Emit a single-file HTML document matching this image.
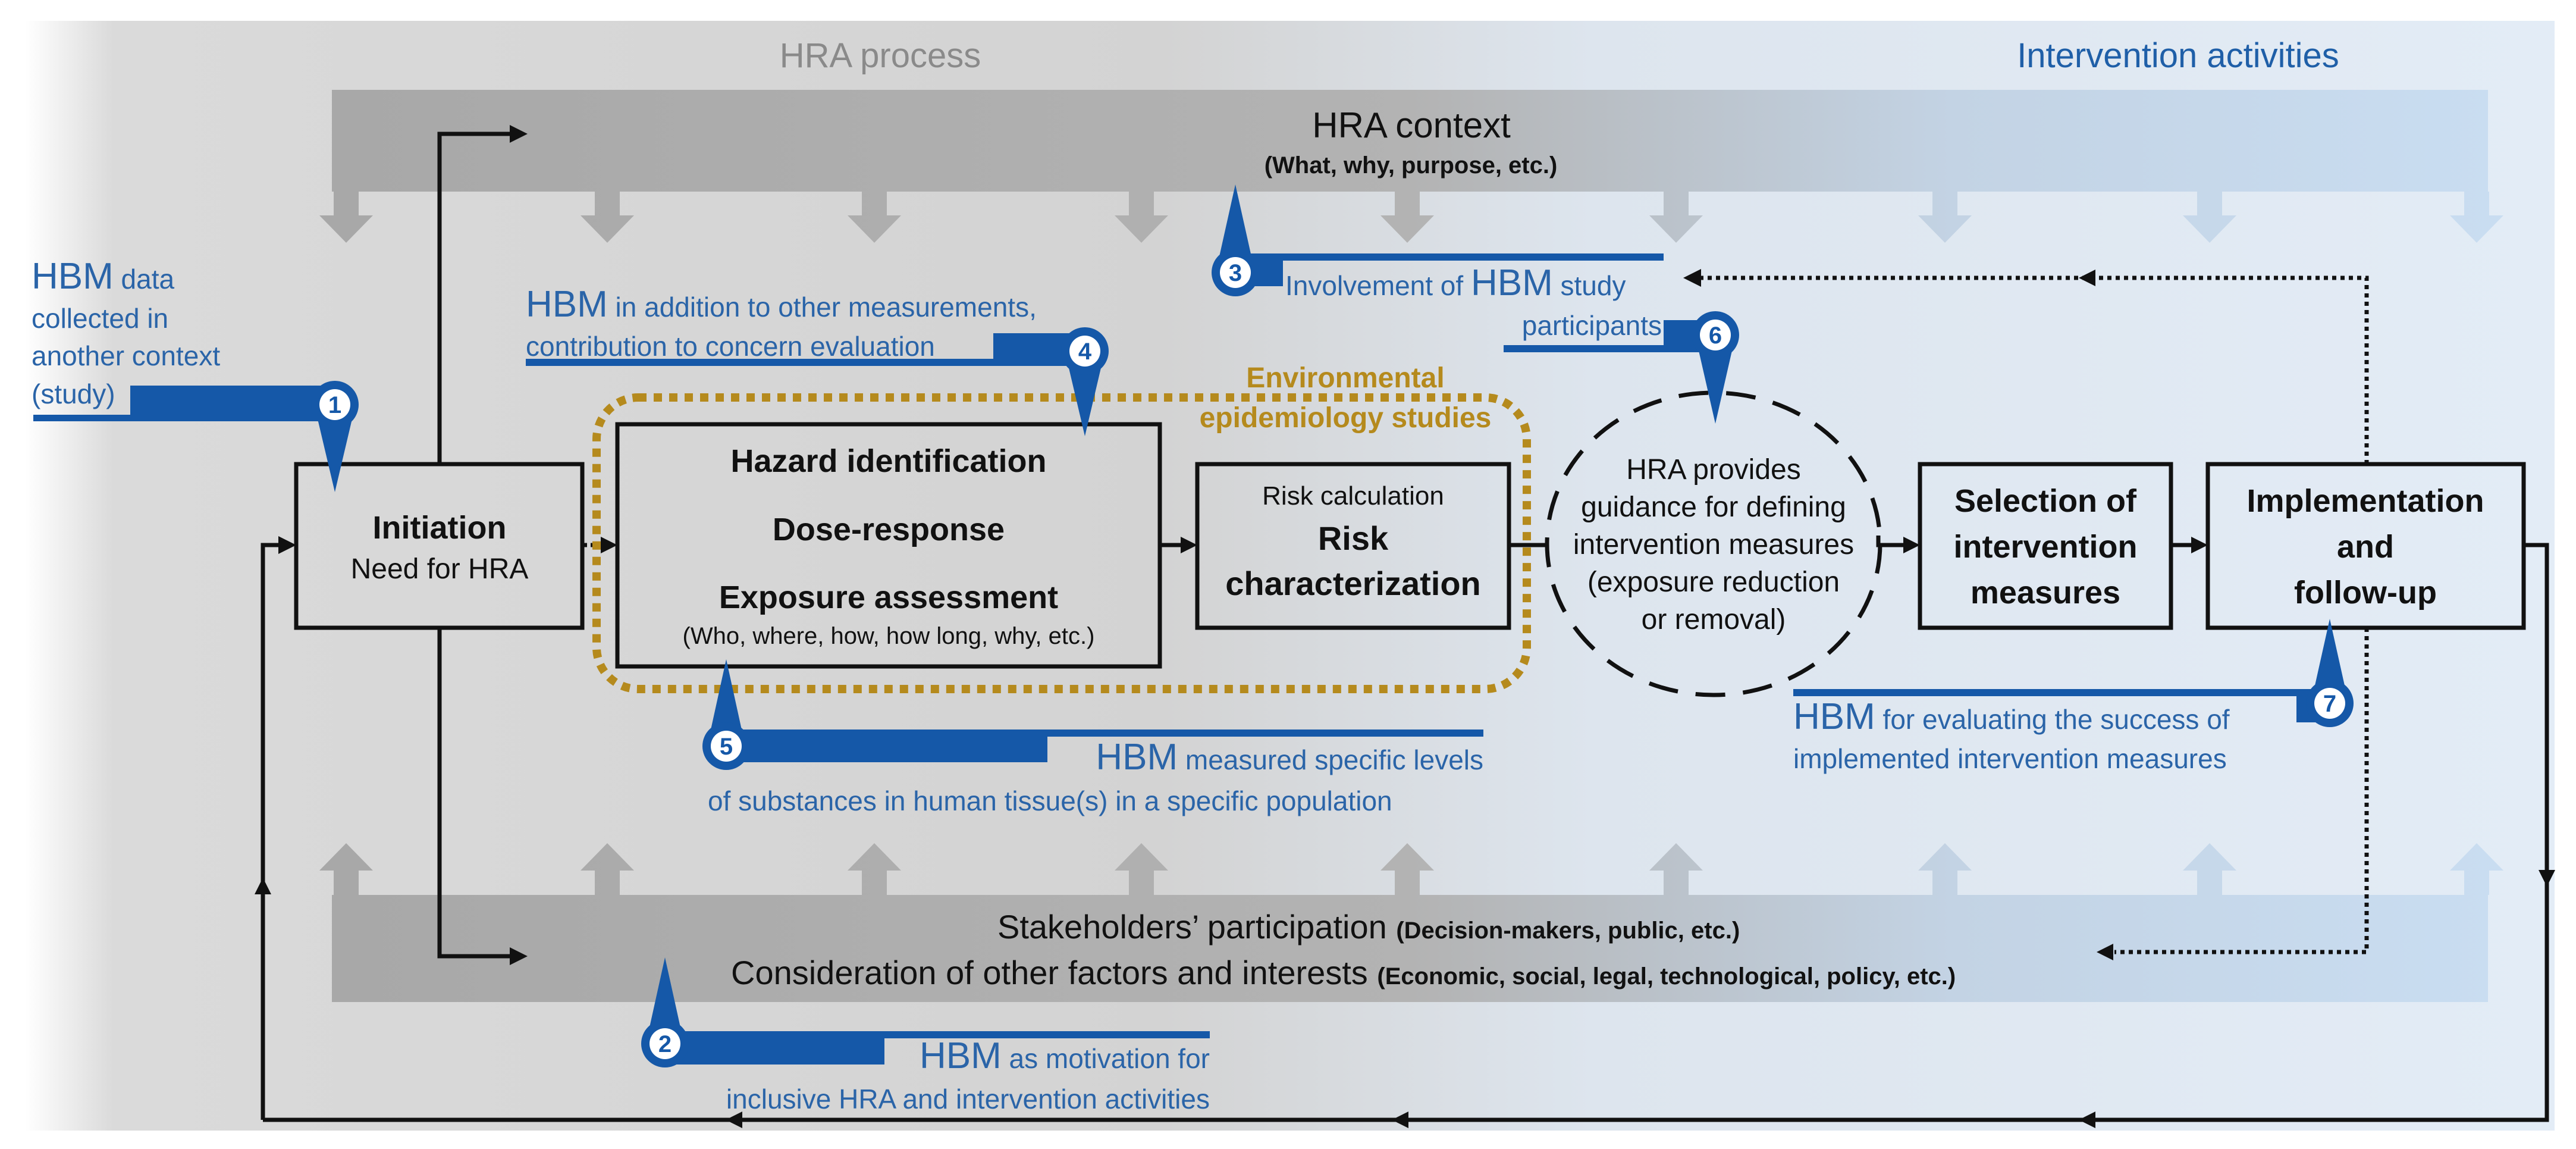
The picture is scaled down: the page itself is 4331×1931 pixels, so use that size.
<!DOCTYPE html>
<html><head><meta charset="utf-8"><style>
html,body{margin:0;padding:0;background:#fff;}
svg{display:block;font-family:"Liberation Sans",Arial,sans-serif;}
.b{fill:#2a64a8}
</style></head><body>
<svg width="4331" height="1931" viewBox="0 0 4331 1931" xmlns="http://www.w3.org/2000/svg">
<defs>
<linearGradient id="bg" gradientUnits="userSpaceOnUse" x1="42" y1="0" x2="4295" y2="0">
<stop offset="0" stop-color="#ffffff"/>
<stop offset="0.035" stop-color="#dadada"/>
<stop offset="0.45" stop-color="#d3d3d3"/>
<stop offset="0.62" stop-color="#dde5ee"/>
<stop offset="1" stop-color="#e3ecf6"/>
</linearGradient>
<linearGradient id="band" gradientUnits="userSpaceOnUse" x1="558" y1="0" x2="4190" y2="0">
<stop offset="0" stop-color="#a8a8a8"/>
<stop offset="0.5" stop-color="#b3b3b3"/>
<stop offset="0.75" stop-color="#c3d3e4"/>
<stop offset="1" stop-color="#c9ddf1"/>
</linearGradient>
</defs>
<rect x="42" y="35" width="4253" height="1865" fill="url(#bg)"/>

<g fill="url(#band)">
<rect x="558" y="151" width="3625" height="171"/>
<path d="M561,322 h42 v40 h24 l-45,46 l-45,-46 h24z"/>
<path d="M1000,322 h42 v40 h24 l-45,46 l-45,-46 h24z"/>
<path d="M1449,322 h42 v40 h24 l-45,46 l-45,-46 h24z"/>
<path d="M1898,322 h42 v40 h24 l-45,46 l-45,-46 h24z"/>
<path d="M2345,322 h42 v40 h24 l-45,46 l-45,-46 h24z"/>
<path d="M2797,322 h42 v40 h24 l-45,46 l-45,-46 h24z"/>
<path d="M3249,322 h42 v40 h24 l-45,46 l-45,-46 h24z"/>
<path d="M3694,322 h42 v40 h24 l-45,46 l-45,-46 h24z"/>
<path d="M4143,322 h42 v40 h24 l-45,46 l-45,-46 h24z"/>
<rect x="558" y="1504" width="3625" height="180"/>
<path d="M561,1504 h42 v-41 h24 l-45,-46 l-45,46 h24z"/>
<path d="M1000,1504 h42 v-41 h24 l-45,-46 l-45,46 h24z"/>
<path d="M1449,1504 h42 v-41 h24 l-45,-46 l-45,46 h24z"/>
<path d="M1898,1504 h42 v-41 h24 l-45,-46 l-45,46 h24z"/>
<path d="M2345,1504 h42 v-41 h24 l-45,-46 l-45,46 h24z"/>
<path d="M2797,1504 h42 v-41 h24 l-45,-46 l-45,46 h24z"/>
<path d="M3249,1504 h42 v-41 h24 l-45,-46 l-45,46 h24z"/>
<path d="M3694,1504 h42 v-41 h24 l-45,-46 l-45,46 h24z"/>
<path d="M4143,1504 h42 v-41 h24 l-45,-46 l-45,46 h24z"/>
</g>

<text x="1480" y="113" font-size="58" fill="#8a8a8a" text-anchor="middle">HRA process</text>
<text x="3662" y="113" font-size="58" fill="#1f5fa8" text-anchor="middle">Intervention activities</text>
<text x="2373" y="231" font-size="60" fill="#111" text-anchor="middle">HRA context</text>
<text x="2372" y="291" font-size="40" font-weight="bold" fill="#111" text-anchor="middle">(What, why, purpose, etc.)</text>

<text x="1677" y="1577" font-size="56" fill="#111">Stakeholders’ participation <tspan font-size="40" font-weight="bold">(Decision-makers, public, etc.)</tspan></text>
<text x="1229" y="1654" font-size="56" fill="#111">Consideration of other factors and interests <tspan font-size="40" font-weight="bold">(Economic, social, legal, technological, policy, etc.)</tspan></text>

<g stroke="#111" stroke-width="7" fill="none">
<path d="M739,780 V225 H860"/>
<path d="M739,1055 V1607 H860"/>
<path d="M442,1882 V916 H475"/>
<path d="M442,1882 H4282 V916 H4243"/>
<path d="M1950,916 H1990"/>
<path d="M2537,916 H2602"/>
<path d="M3158,900 V916 H3205"/>
<path d="M3650,916 H3690"/>
<path d="M979,916 H1015" stroke-dasharray="8 6"/>
<path d="M3979,780 V467 H2860" stroke-dasharray="7 7"/>
<path d="M3979,1055 V1600 H3555" stroke-dasharray="7 7"/>
</g>
<g fill="#111">
<path d="M887,225 l-30,-15 v30z"/>
<path d="M887,1607 l-30,-15 v30z"/>
<path d="M498,916 l-30,-15 v30z"/>
<path d="M442,1475 l-14,28 h28z"/>
<path d="M1038,916 l-28,-14 v28z"/>
<path d="M2013,916 l-28,-14 v28z"/>
<path d="M3228,916 l-28,-14 v28z"/>
<path d="M3712,916 l-28,-14 v28z"/>
<path d="M4282,1490 l-14,-28 h28z"/>
<path d="M1220,1882 l28,-14 v28z"/>
<path d="M2340,1882 l28,-14 v28z"/>
<path d="M3495,1882 l28,-14 v28z"/>
<path d="M2830,467 l30,-15 v30z"/>
<path d="M3495,467 l28,-14 v28z"/>
<path d="M3525,1600 l28,-14 v28z"/>
</g>

<rect x="1003" y="668" width="1564" height="490" rx="70" fill="none" stroke="#b58a1d" stroke-width="14" stroke-dasharray="14 12"/>
<text x="2262" y="651" font-size="48" font-weight="bold" fill="#b58a1d" text-anchor="middle">Environmental</text>
<text x="2262" y="718" font-size="48" font-weight="bold" fill="#b58a1d" text-anchor="middle">epidemiology studies</text>

<g fill="none" stroke="#111" stroke-width="7">
<rect x="498" y="780" width="481" height="275"/>
<rect x="1038" y="713" width="912" height="407"/>
<rect x="2013" y="780" width="524" height="275"/>
<rect x="3228" y="780" width="422" height="275"/>
<rect x="3712" y="780" width="531" height="275"/>
<ellipse cx="2881" cy="914" rx="280" ry="254" stroke-dasharray="50 30"/>
</g>
<g fill="#111" text-anchor="middle">
<text x="739" y="905" font-size="54" font-weight="bold">Initiation</text>
<text x="739" y="972" font-size="48">Need for HRA</text>
<text x="1494" y="793" font-size="54" font-weight="bold">Hazard identification</text>
<text x="1494" y="908" font-size="54" font-weight="bold">Dose-response</text>
<text x="1494" y="1022" font-size="54" font-weight="bold">Exposure assessment</text>
<text x="1494" y="1082" font-size="40">(Who, where, how, how long, why, etc.)</text>
<text x="2275" y="848" font-size="44">Risk calculation</text>
<text x="2275" y="924" font-size="56" font-weight="bold">Risk</text>
<text x="2275" y="1000" font-size="56" font-weight="bold">characterization</text>
<text x="2881" y="805" font-size="48">HRA provides</text>
<text x="2881" y="868" font-size="48">guidance for defining</text>
<text x="2881" y="931" font-size="48">intervention measures</text>
<text x="2881" y="994" font-size="48">(exposure reduction</text>
<text x="2881" y="1057" font-size="48">or removal)</text>
<text x="3439" y="860" font-size="54" font-weight="bold">Selection of</text>
<text x="3439" y="937" font-size="54" font-weight="bold">intervention</text>
<text x="3439" y="1014" font-size="54" font-weight="bold">measures</text>
<text x="3977" y="860" font-size="54" font-weight="bold">Implementation</text>
<text x="3977" y="937" font-size="54" font-weight="bold">and</text>
<text x="3977" y="1014" font-size="54" font-weight="bold">follow-up</text>
</g>

<g fill="#1558a8">
<rect x="56" y="697" width="170" height="11"/>
<rect x="219" y="648" width="340" height="60"/>
<path d="M533,700 L563,827 L593,700z"/>
<circle cx="563" cy="680" r="40"/>
<rect x="884" y="603" width="800" height="12"/>
<rect x="1670" y="560" width="155" height="55"/>
<path d="M1795,610 L1824,733 L1853,610z"/>
<circle cx="1824" cy="590" r="40"/>
<rect x="2077" y="426" width="720" height="12"/>
<rect x="2077" y="426" width="80" height="55"/>
<path d="M2048,440 L2077,310 L2106,440z"/>
<circle cx="2077" cy="458" r="40"/>
<rect x="2528" y="580" width="280" height="12"/>
<rect x="2797" y="538" width="90" height="54"/>
<path d="M2855,585 L2884,712 L2913,585z"/>
<circle cx="2884" cy="563" r="40"/>
<rect x="1221" y="1226" width="540" height="55"/>
<rect x="1750" y="1226" width="744" height="12"/>
<path d="M1192,1240 L1221,1108 L1250,1240z"/>
<circle cx="1221" cy="1254" r="40"/>
<rect x="1118" y="1733" width="369" height="56"/>
<rect x="1480" y="1733" width="554" height="12"/>
<path d="M1089,1740 L1118,1609 L1147,1740z"/>
<circle cx="1118" cy="1754" r="40"/>
<rect x="3015" y="1158" width="880" height="12"/>
<rect x="3861" y="1158" width="56" height="56"/>
<path d="M3888,1170 L3917,1040 L3946,1170z"/>
<circle cx="3917" cy="1182" r="40"/>
</g>
<g fill="#fff">
<circle cx="563" cy="680" r="26"/><circle cx="1824" cy="590" r="26"/><circle cx="2077" cy="458" r="26"/>
<circle cx="2884" cy="563" r="26"/><circle cx="1221" cy="1254" r="26"/><circle cx="1118" cy="1754" r="26"/><circle cx="3917" cy="1182" r="26"/>
</g>
<g fill="#1558a8" font-size="40" font-weight="bold" text-anchor="middle">
<text x="563" y="694">1</text><text x="1824" y="604">4</text><text x="2077" y="472">3</text>
<text x="2884" y="577">6</text><text x="1221" y="1268">5</text><text x="1118" y="1768">2</text><text x="3917" y="1196">7</text>
</g>

<g class="b" font-size="46">
<text x="53" y="485"><tspan font-size="62">HBM</tspan> data</text>
<text x="53" y="551">collected in</text>
<text x="53" y="614">another context</text>
<text x="53" y="678">(study)</text>
<text x="884" y="532"><tspan font-size="62">HBM</tspan> in addition to other measurements,</text>
<text x="884" y="598">contribution to concern evaluation</text>
<text x="2161" y="496">Involvement of <tspan font-size="62">HBM</tspan> study</text>
<text x="2794" y="563" text-anchor="end">participants</text>
<text x="2494" y="1293" text-anchor="end"><tspan font-size="62">HBM</tspan> measured specific levels</text>
<text x="1190" y="1362">of substances in human tissue(s) in a specific population</text>
<text x="2034" y="1795" text-anchor="end"><tspan font-size="62">HBM</tspan> as motivation for</text>
<text x="2034" y="1863" text-anchor="end">inclusive HRA and intervention activities</text>
<text x="3015" y="1225"><tspan font-size="62">HBM</tspan> for evaluating the success of</text>
<text x="3015" y="1291">implemented intervention measures</text>
</g>
</svg>
</body></html>
